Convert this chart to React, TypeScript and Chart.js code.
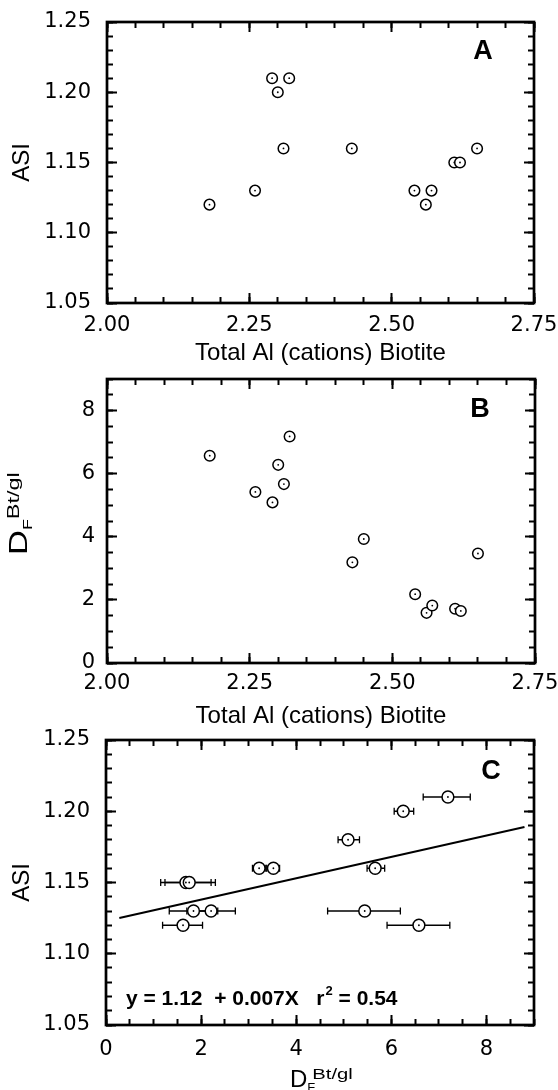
import React, { useEffect, useRef } from "react";
import { Chart, registerables } from "chart.js";

Chart.register(...registerables);

// ---------------- data ----------------
const panelAX = [2.18, 2.26, 2.29, 2.32, 2.30, 2.31, 2.43, 2.54, 2.57, 2.56, 2.61, 2.62, 2.65];
const panelAY = [1.12, 1.13, 1.21, 1.21, 1.20, 1.16, 1.16, 1.13, 1.13, 1.12, 1.15, 1.15, 1.16];

const panelBX = [2.18, 2.26, 2.29, 2.30, 2.31, 2.32, 2.43, 2.45, 2.54, 2.56, 2.57, 2.61, 2.62, 2.65];
const panelBY = [6.57, 5.42, 5.09, 6.28, 5.67, 7.18, 3.19, 3.93, 2.18, 1.59, 1.82, 1.72, 1.65, 3.47];

const panelCX = [7.19, 6.25, 5.09, 3.22, 3.52, 5.66, 1.68, 1.75, 1.84, 2.21, 1.62, 5.44, 6.58];
const panelCY = [1.21, 1.20, 1.18, 1.16, 1.16, 1.16, 1.15, 1.15, 1.13, 1.13, 1.12, 1.13, 1.12];
const panelCErrLow = [6.67, 6.06, 4.88, 3.08, 3.38, 5.49, 1.15, 1.24, 1.33, 1.70, 1.19, 4.66, 5.91];
const panelCErrHigh = [7.66, 6.47, 5.33, 3.36, 3.65, 5.86, 2.21, 2.30, 2.35, 2.72, 2.03, 6.19, 7.23];

const fitIntercept = 1.123;
const fitSlope = 0.0075;
const fitXRange = [0.28, 8.8];

const alTicks = [2.0, 2.25, 2.5, 2.75];
const asiTicks = [1.05, 1.1, 1.15, 1.2, 1.25];
const dfTicks = [0, 2, 4, 6, 8];

const xTitleAl = "Total Al (cations) Biotite";
const yTitleASI = "ASI";
const equationMain = "y = 1.12  + 0.007X   r";
const equationTail = " = 0.54";

// ---------------- styling ----------------
const TICK_FONT = { family: "'DejaVu Sans', sans-serif", size: 21 };
const TITLE_FONT = { family: "'Liberation Sans', Arial, sans-serif", size: 24 };
const SANS = "'Liberation Sans', Arial, sans-serif";
const MAJOR_LEN = 10;
const MINOR_LEN = 6;

function stepsOf(min: number, max: number, step: number) {
  const out: number[] = [];
  const n = Math.round((max - min) / step);
  for (let i = 0; i <= n; i++) out.push(+(min + i * step).toFixed(6));
  return out;
}

// extra zero-size axes that only draw inward tick marks
function tickAxis(axis: string, position: string, min: number, max: number, values: number[], len: number) {
  return {
    type: "linear",
    axis,
    position,
    min,
    max,
    weight: 0,
    afterBuildTicks: (s: any) => {
      s.ticks = values.map((v) => ({ value: v }));
    },
    ticks: { display: false },
    grid: {
      display: true,
      drawOnChartArea: false,
      drawTicks: true,
      tickLength: -len,
      tickWidth: 2,
      tickColor: "#000",
    },
    border: { display: false },
    title: { display: false },
    afterFit: (s: any) => {
      if (axis === "x") s.height = 0;
      else s.width = 0;
      s.paddingLeft = 0;
      s.paddingRight = 0;
      s.paddingTop = 0;
      s.paddingBottom = 0;
    },
  };
}

function makeScales(o: any) {
  const xMinorVals = stepsOf(o.xMin, o.xMax, o.xMinor);
  const yMinorVals = stepsOf(o.yMin, o.yMax, o.yMinor);
  return {
    x: {
      type: "linear",
      axis: "x",
      position: "bottom",
      weight: 10,
      min: o.xMin,
      max: o.xMax,
      afterBuildTicks: (s: any) => {
        s.ticks = o.xTicks.map((v: number) => ({ value: v }));
      },
      ticks: {
        font: TICK_FONT,
        color: "#000",
        padding: o.xPad + MAJOR_LEN,
        maxRotation: 0,
        autoSkip: false,
        callback: (v: any) => o.xFmt(Number(v)),
      },
      grid: { display: true, drawOnChartArea: false, drawTicks: true, tickLength: -MAJOR_LEN, tickWidth: 2, tickColor: "#000" },
      border: { display: false },
      title: o.xTitle
        ? { display: true, text: o.xTitle, font: TITLE_FONT, color: "#000", padding: { top: 0, bottom: o.xTitlePad } }
        : { display: false },
      afterFit: (s: any) => {
        s.height = o.xHeight;
        s.paddingLeft = 0;
        s.paddingRight = 0;
      },
    },
    y: {
      type: "linear",
      axis: "y",
      position: "left",
      weight: 10,
      min: o.yMin,
      max: o.yMax,
      afterBuildTicks: (s: any) => {
        s.ticks = o.yTicks.map((v: number) => ({ value: v }));
      },
      ticks: {
        font: TICK_FONT,
        color: "#000",
        padding: o.yPad + MAJOR_LEN,
        autoSkip: false,
        callback: (v: any) => o.yFmt(Number(v)),
      },
      grid: { display: true, drawOnChartArea: false, drawTicks: true, tickLength: -MAJOR_LEN, tickWidth: 2, tickColor: "#000" },
      border: { display: false },
      title: o.yTitle
        ? { display: true, text: o.yTitle, font: TITLE_FONT, color: "#000", padding: { top: 7.6, bottom: 0 } }
        : { display: false },
      afterFit: (s: any) => {
        s.width = o.yWidth;
        s.paddingTop = 0;
        s.paddingBottom = 0;
      },
    },
    xBottomMinor: tickAxis("x", "bottom", o.xMin, o.xMax, xMinorVals, MINOR_LEN),
    xTopMajor: tickAxis("x", "top", o.xMin, o.xMax, o.xMajorVals, MAJOR_LEN),
    xTopMinor: tickAxis("x", "top", o.xMin, o.xMax, xMinorVals, MINOR_LEN),
    yLeftMinor: tickAxis("y", "left", o.yMin, o.yMax, yMinorVals, MINOR_LEN),
    yRightMajor: tickAxis("y", "right", o.yMin, o.yMax, o.yMajorVals, MAJOR_LEN),
    yRightMinor: tickAxis("y", "right", o.yMin, o.yMax, yMinorVals, MINOR_LEN),
  };
}

function drawFrame(chart: any) {
  const ctx = chart.ctx;
  const a = chart.chartArea;
  ctx.save();
  ctx.strokeStyle = "#000";
  ctx.lineWidth = 2.7;
  ctx.strokeRect(a.left, a.top, a.right - a.left, a.bottom - a.top);
  ctx.restore();
}

function drawLetter(chart: any, letter: string, dx: number, dy: number) {
  const ctx = chart.ctx;
  const a = chart.chartArea;
  ctx.save();
  ctx.fillStyle = "#000";
  ctx.font = `bold 27px ${SANS}`;
  ctx.textAlign = "center";
  ctx.textBaseline = "middle";
  ctx.fillText(letter, a.right - dx, a.top + dy);
  ctx.restore();
}

function drawDF(ctx: any, x: number, y: number, stretch: number, sizes: any, stacked: boolean) {
  ctx.save();
  ctx.fillStyle = "#000";
  ctx.textBaseline = "alphabetic";
  ctx.textAlign = "left";
  ctx.translate(x, y);
  ctx.scale(stretch, 1);
  ctx.font = `${sizes.d}px ${SANS}`;
  ctx.fillText("D", 0, 0);
  let cx = ctx.measureText("D").width;
  ctx.font = `${sizes.sub}px ${SANS}`;
  ctx.fillText("F", cx, sizes.subOff);
  const fw = ctx.measureText("F").width;
  if (!stacked) cx += fw;
  else cx += sizes.supGap;
  ctx.font = `${sizes.sup}px ${SANS}`;
  if (sizes.supStretch) {
    ctx.save();
    ctx.translate(cx, sizes.supOff);
    ctx.scale(sizes.supStretch, 1);
    ctx.fillText("Bt/gl", 0, 0);
    ctx.restore();
  } else {
    ctx.fillText("Bt/gl", cx, sizes.supOff);
  }
  ctx.restore();
}

function drawDFYTitle(chart: any) {
  const ctx = chart.ctx;
  ctx.save();
  ctx.translate(27, 195);
  ctx.rotate(-Math.PI / 2);
  drawDF(ctx, 0, 0, 1.38, { d: 25, sub: 13, subOff: 5, sup: 17, supOff: -8 }, false);
  ctx.restore();
}

function drawCExtras(chart: any) {
  const ctx = chart.ctx;
  const a = chart.chartArea;
  drawDF(ctx, 290, 372, 1.0, { d: 24, sub: 13, subOff: 5, sup: 15, supOff: -8, supGap: 5, supStretch: 1.35 }, true);
  ctx.save();
  ctx.fillStyle = "#000";
  ctx.font = `bold 21px ${SANS}`;
  ctx.textBaseline = "middle";
  ctx.textAlign = "left";
  const x0 = a.left + 20;
  const y0 = a.bottom - 26;
  ctx.fillText(equationMain, x0, y0);
  const w = ctx.measureText(equationMain).width;
  ctx.font = `bold 13px ${SANS}`;
  ctx.fillText("2", x0 + w + 1, y0 - 8);
  const w2 = ctx.measureText("2").width;
  ctx.font = `bold 21px ${SANS}`;
  ctx.fillText(equationTail, x0 + w + w2 + 1, y0);
  ctx.restore();
}

function drawErrorBars(chart: any) {
  const ctx = chart.ctx;
  const xs = chart.scales.x;
  const ys = chart.scales.y;
  ctx.save();
  ctx.strokeStyle = "#000";
  ctx.lineWidth = 1.3;
  for (let i = 0; i < panelCX.length; i++) {
    const y = ys.getPixelForValue(panelCY[i]);
    const x0 = xs.getPixelForValue(panelCErrLow[i]);
    const x1 = xs.getPixelForValue(panelCErrHigh[i]);
    ctx.beginPath();
    ctx.moveTo(x0, y);
    ctx.lineTo(x1, y);
    ctx.moveTo(x0, y - 3.5);
    ctx.lineTo(x0, y + 3.5);
    ctx.moveTo(x1, y - 3.5);
    ctx.lineTo(x1, y + 3.5);
    ctx.stroke();
  }
  ctx.restore();
}

function decoPlugin(id: string, letter: string, ldx: number, ldy: number, extra: any, before: any) {
  return {
    id,
    beforeDatasetsDraw(chart: any) {
      if (before) before(chart);
    },
    afterDraw(chart: any) {
      drawFrame(chart);
      drawLetter(chart, letter, ldx, ldy);
      if (extra) extra(chart);
    },
  };
}

function circleSets(xs: number[], ys: number[], r: number) {
  const pts = xs.map((x, i) => ({ x, y: ys[i] }));
  return [
    { data: pts, xAxisID: "x", yAxisID: "y", pointRadius: r, borderWidth: 1.5, borderColor: "#000", backgroundColor: "#fff", order: 2, showLine: false },
    { data: pts, xAxisID: "x", yAxisID: "y", pointRadius: 0.9, borderWidth: 0, borderColor: "#000", backgroundColor: "#000", order: 1, showLine: false },
  ];
}

const fmt2 = (v: number) => v.toFixed(2);
const fmt0 = (v: number) => String(Math.round(v));

function configA() {
  return {
    type: "scatter",
    data: { datasets: circleSets(panelAX, panelAY, 5.3) },
    options: {
      responsive: false,
      animation: false,
      events: [],
      layout: { padding: { top: 22, right: 24, left: 0, bottom: 0 } },
      plugins: { legend: { display: false }, tooltip: { enabled: false } },
      scales: makeScales({
        xMin: 2, xMax: 2.75, xTicks: alTicks, xMajorVals: alTicks, xMinor: 0.05, xFmt: fmt2, xPad: 10,
        xTitle: xTitleAl, xTitlePad: 4, xHeight: 69,
        yMin: 1.05, yMax: 1.25, yTicks: asiTicks, yMajorVals: asiTicks, yMinor: 0.01, yFmt: fmt2, yPad: 16,
        yTitle: yTitleASI, yWidth: 107,
      }),
    },
    plugins: [decoPlugin("decoPanelA", "A", 51, 30, null, null)],
  };
}

function configB() {
  return {
    type: "scatter",
    data: { datasets: circleSets(panelBX, panelBY, 5.3) },
    options: {
      responsive: false,
      animation: false,
      events: [],
      layout: { padding: { top: 19, right: 23, left: 0, bottom: 0 } },
      plugins: { legend: { display: false }, tooltip: { enabled: false } },
      scales: makeScales({
        xMin: 2, xMax: 2.75, xTicks: alTicks, xMajorVals: alTicks, xMinor: 0.05, xFmt: fmt2, xPad: 8,
        xTitle: xTitleAl, xTitlePad: 1, xHeight: 69,
        yMin: 0, yMax: 9, yTicks: dfTicks, yMajorVals: dfTicks, yMinor: 0.5, yFmt: fmt0, yPad: 12,
        yTitle: null, yWidth: 107,
      }),
    },
    plugins: [decoPlugin("decoPanelB", "B", 55, 31, drawDFYTitle, null)],
  };
}

function configC() {
  const circles = circleSets(panelCX, panelCY, 5.9);
  const fitLine = {
    data: fitXRange.map((x) => ({ x, y: fitIntercept + fitSlope * x })),
    xAxisID: "x",
    yAxisID: "y",
    showLine: true,
    pointRadius: 0,
    borderWidth: 2,
    borderColor: "#000",
    backgroundColor: "#000",
    order: 3,
  };
  return {
    type: "scatter",
    data: { datasets: [fitLine, ...circles] },
    options: {
      responsive: false,
      animation: false,
      events: [],
      layout: { padding: { top: 25, right: 24, left: 0, bottom: 0 } },
      plugins: { legend: { display: false }, tooltip: { enabled: false } },
      scales: makeScales({
        xMin: 0, xMax: 9, xTicks: dfTicks, xMajorVals: dfTicks, xMinor: 0.5, xFmt: fmt0, xPad: 12,
        xTitle: null, xTitlePad: 0, xHeight: 65,
        yMin: 1.05, yMax: 1.25, yTicks: asiTicks, yMajorVals: asiTicks, yMinor: 0.01, yFmt: fmt2, yPad: 16,
        yTitle: yTitleASI, yWidth: 106,
      }),
    },
    plugins: [decoPlugin("decoPanelC", "C", 43, 32, drawCExtras, drawErrorBars)],
  };
}

function Panel({ top, height, make }: { top: number; height: number; make: () => any }) {
  const ref = useRef<HTMLCanvasElement | null>(null);
  useEffect(() => {
    if (!ref.current) return;
    const chart = new Chart(ref.current, make());
    return () => chart.destroy();
  }, []);
  return (
    <canvas
      ref={ref}
      width={558}
      height={height}
      style={{ position: "absolute", left: 0, top, width: 558, height, display: "block" }}
    />
  );
}

export default function App() {
  return (
    <div style={{ position: "absolute", left: 0, top: 0, width: 558, height: 1090, background: "#fff", overflow: "hidden" }}>
      <Panel top={0} height={372} make={configA} />
      <Panel top={360} height={372} make={configB} />
      <Panel top={715} height={375} make={configC} />
    </div>
  );
}
